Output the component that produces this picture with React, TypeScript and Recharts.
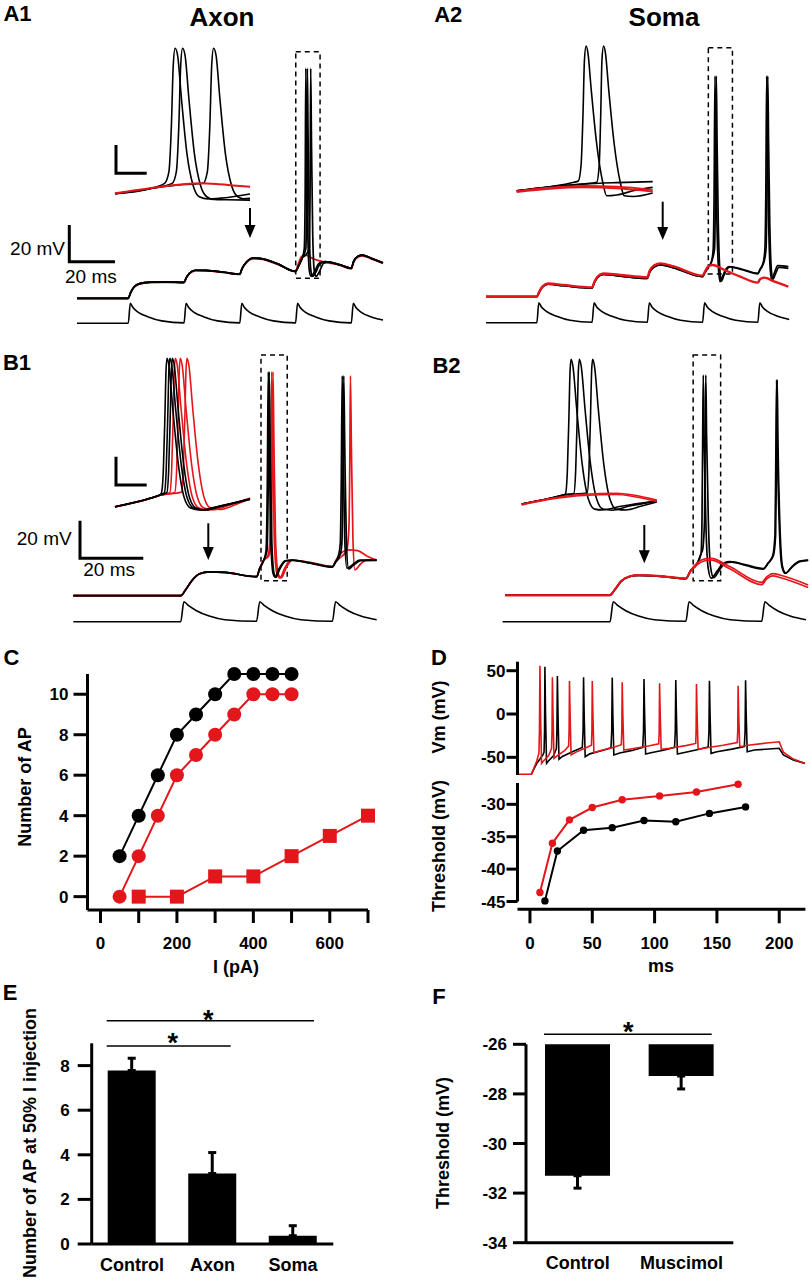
import React from 'react';
import {
  LineChart,
  Line,
  XAxis,
  YAxis,
  ReferenceArea,
  ReferenceLine,
  BarChart,
  Bar,
  ErrorBar,
} from 'recharts';

const FONT = "'Liberation Sans', Arial, Helvetica, sans-serif";
const RED = '#e3161b';

type P = [number, number]; // [time ms, mV] (stimulus: [time ms, pA])

// ---------- stimulus waveforms (pA) ----------
const stimA: P[] = [
  [0, 0], [23, 0], [23.9, 100], [25, 80], [27.5, 55], [32, 32], [38, 12], [48, 2],
  [48.9, 100], [50, 80], [52.5, 55], [57, 32], [63, 12], [73, 2],
  [73.9, 100], [75, 80], [77.5, 55], [82, 32], [88, 12], [98, 2],
  [98.9, 100], [100, 80], [102.5, 55], [107, 32], [113, 12], [123, 2],
  [123.9, 100], [125, 80], [127.5, 55], [132, 32], [137.2, 16],
];
const stimB: P[] = [
  [0, 0], [34, 0], [35, 100], [36.5, 80], [39, 55], [43, 28], [48, 10], [58, 2],
  [59, 100], [60.5, 80], [63, 55], [67, 28], [72, 10], [82, 2],
  [83, 100], [84.5, 80], [87, 55], [91, 28], [96, 10],
];

// ---------- A1 axon ----------
const a1Red: P[] = [
  [0, -70], [23, -70], [24, -67], [25.5, -64], [28, -62.3], [33, -61.5], [40, -61.3], [48, -61.5],
  [49, -59], [50.5, -56.5], [53, -55], [58, -55], [66, -56], [73, -57], [74, -54], [76, -50.5],
  [79, -48.5], [82, -48.6], [90, -51.5], [98, -55.5], [99, -52], [100.5, -47.5], [102, -46.3],
  [106, -48.5], [112, -50.5], [118, -52], [123, -54], [124, -50.5], [126, -47.5], [128, -46.8],
  [132, -48.5], [137.2, -51],
];
const a1BlackPre: P[] = [
  [0, -70], [23, -70], [24, -67], [25.5, -64], [28, -62], [33, -61.2], [40, -61], [48, -61.3],
  [49, -58.8], [50.5, -56.2], [53, -54.7], [58, -54.8], [66, -55.8], [73, -56.8], [74, -53.8],
  [76, -50.2], [79, -48], [82, -48.2], [90, -51.2], [98, -55.3], [99.5, -52], [101, -48],
];
const a1Spike1: P[] = [
  [101.9, -43], [102.3, -15], [102.6, 55.5], [102.95, 15], [103.5, -35], [104.2, -55], [105, -58],
  [106.5, -55.5], [108.5, -51], [111, -50],
];
const a1Spike2: P[] = [
  [102.6, -43], [103, -15], [103.3, 55.5], [103.65, 15], [104.2, -35], [104.9, -55], [105.7, -58],
  [107.2, -55.5], [109, -51], [111.5, -50],
];
const a1Spike3: P[] = [
  [102.5, -46.5], [104.1, -43], [104.5, -15], [104.8, 55.5], [105.15, 15], [105.7, -35],
  [106.4, -55], [107.2, -58], [108.7, -55.5], [110.5, -51], [113, -50.3],
];
const a1BlackPost: P[] = [
  [118, -51.8], [123, -53.6], [124, -50], [126, -47], [128, -46.4], [132, -48.2], [137.2, -50.6],
];
// A1 inset (expanded time)
const a1InRed: P[] = [
  [0, -53.6], [2.82, -50], [5.51, -47.1], [6.85, -46.4], [8.2, -46.9], [9.54, -47.9], [10.89, -48.9],
];
const a1InB1: P[] = [
  [0, -53.8], [2.82, -50.2], [4.0, -46.4], [4.35, -38], [4.55, -5], [4.7, 38], [4.85, 50],
  [5.05, 45], [5.35, 15], [5.8, -25], [6.3, -48], [6.8, -56], [7.5, -57.5], [8.5, -57], [10.89, -54],
];
const a1InB2: P[] = [
  [0, -53.8], [2.82, -50.2], [4.6, -46.5], [4.95, -38], [5.15, -5], [5.3, 38], [5.45, 50],
  [5.65, 45], [5.95, 15], [6.4, -25], [6.9, -48], [7.4, -56], [8.0, -58], [9.0, -58.2], [10.89, -58.4],
];
const a1InB3: P[] = [
  [0, -53.8], [2.82, -50.2], [5.51, -47.3], [7.1, -46.4], [7.45, -38], [7.65, -5], [7.8, 38],
  [7.95, 50], [8.15, 45], [8.45, 15], [8.9, -25], [9.4, -48], [9.9, -56], [10.4, -57.5], [10.89, -57.2],
];

// ---------- A2 soma ----------
const a2Red: P[] = [
  [0, -70], [23, -70], [24, -67.5], [25.5, -64.5], [28, -62.8], [35, -63.6], [48, -64.9],
  [49, -62], [50.5, -59], [53, -57.3], [60, -58], [73, -59.4], [74, -56], [76, -53], [79, -51.8],
  [85, -53.5], [98, -58.5], [99, -56.5], [100.5, -53.5], [102.5, -52.7], [108, -55.5], [115, -59],
  [123, -62.3], [124, -60.5], [126, -59.6], [130, -61.5], [136.8, -64.5],
];
const a2BlackPre: P[] = [
  [0, -70], [23, -70], [24, -67.7], [25.5, -64.8], [28, -63.2], [35, -64], [48, -65.3],
  [49, -62.4], [50.5, -59.5], [53, -57.8], [60, -58.6], [73, -60], [74, -56.8], [76, -53.8],
  [79, -52.6], [85, -54.3], [98, -59], [99, -57], [100.5, -54], [102, -51],
];
const a2Tail1: P[] = [
  [102.8, -44], [103.2, -15], [103.6, 50.4], [103.95, 15], [104.5, -30], [105.2, -55], [105.9, -61.8],
  [107, -59], [108.5, -55], [110, -53.6], [116, -55], [123, -57.2], [124, -55], [125.5, -51],
  [126.2, -44], [126.6, -15], [127, 50.4], [127.35, 15], [127.9, -30], [128.6, -55], [129.3, -60.9],
  [130.5, -57], [132, -53], [136.8, -53.6],
];
const a2Tail2: P[] = [
  [103.4, -44], [103.8, -15], [104.2, 50.4], [104.55, 15], [105.1, -30], [105.8, -55], [106.5, -61.5],
  [107.6, -58.5], [109, -55], [110.5, -53.8], [116, -55.3], [123, -57.5], [124, -55.3], [125.8, -51],
  [126.7, -44], [127.1, -15], [127.5, 50.4], [127.85, 15], [128.4, -30], [129.1, -55], [129.8, -60.5],
  [131, -57.5], [132.5, -54], [136.8, -54.5],
];
const a2InRed: P[] = [[0, -53.6], [2.66, -51.2], [5.33, -50], [8, -50.5], [10.88, -52.9]];
const a2InRed2: P[] = [[0, -54.3], [2.66, -52], [5.33, -51], [8, -51.6], [10.88, -54]];
const a2InB1: P[] = [
  [0, -53.4], [2.66, -50.5], [4.5, -47.5], [4.93, -46.4], [5.15, -35], [5.3, 0], [5.42, 40],
  [5.55, 50], [5.7, 45], [5.95, 20], [6.4, -20], [6.9, -48], [7.2, -57], [8, -56.4], [9.5, -53], [10.88, -51],
];
const a2InB2: P[] = [
  [0, -53.4], [2.66, -50.5], [5.33, -48.6], [6.4, -47.3], [6.6, -35], [6.72, 0], [6.82, 40],
  [6.95, 50], [7.1, 45], [7.35, 20], [7.8, -20], [8.3, -48], [8.6, -57], [9.33, -57.5], [10.88, -55],
];
const a2InB3: P[] = [[0, -53.4], [2.66, -50.5], [5.33, -48.6], [8, -47.6], [10.88, -46.9]];

// ---------- B1 axon ----------
const b1Pre: P[] = [
  [0, -70], [34, -70], [35.5, -67], [37.5, -62], [40, -58.3], [43, -57.3], [48, -57.6], [58, -59.9],
  [59, -55.5], [60.3, -51],
];
const b1Black1: P[] = [
  [61, -46], [61.4, -10], [61.7, 49.1], [62, 10], [62.5, -40], [63.2, -58], [63.8, -60], [65, -56],
  [67, -51.5], [69, -51], [75, -52.5], [82, -54.6], [83, -52], [84, -48], [84.5, -42], [84.8, -10],
  [85.1, 46.9], [85.4, 10], [85.9, -40], [86.6, -55.4], [88, -54], [90.7, -51], [96, -51],
];
const b1Black2: P[] = [
  [61.3, -46], [61.7, -10], [62, 49.1], [62.3, 10], [62.8, -40], [63.5, -58], [64.1, -60.2],
  [65.3, -56], [67.3, -51.5], [69.3, -51.2], [75, -52.7], [82, -54.8], [83, -52.2], [84.5, -48],
  [85, -42], [85.3, -10], [85.6, 46.9], [85.9, 10], [86.4, -40], [87.1, -55.8], [88.5, -54], [91, -51.3], [96, -51.2],
];
const b1Red1: P[] = [
  [61.5, -49], [62.2, -42], [62.5, -10], [62.8, 49.1], [63.1, 10], [63.6, -40], [64.4, -58],
  [65.4, -60.5], [67, -55], [69, -51], [75, -52.5], [82, -54.6], [83, -52], [85, -49], [86.5, -46],
  [87.2, -35], [87.5, 0], [87.7, 46.9], [88, 10], [88.5, -40], [89.1, -56.3], [91, -53], [92.9, -51], [96, -51],
];
const b1Red2: P[] = [
  [61.8, -49], [62.6, -42], [62.9, -10], [63.2, 49.1], [63.5, 10], [64, -40], [64.8, -58],
  [65.8, -60.5], [67.4, -55], [69.4, -51], [75, -52.3], [82, -54.4], [83, -51.5], [85, -47],
  [87, -45.6], [90, -46], [93, -49], [96, -51],
];
const b1InB1: P[] = [
  [0, -56], [2.82, -50], [3.63, -47.6], [3.75, -46], [3.9, -30], [4.03, 10], [4.12, 42], [4.2, 50],
  [4.35, 45], [4.65, 15], [5.1, -25], [5.6, -50], [6.1, -57], [6.85, -58.4], [8.2, -56], [10.89, -50.5],
];
const b1InB2: P[] = [
  [0, -56], [2.82, -50], [3.63, -47.6], [3.98, -46], [4.13, -30], [4.26, 10], [4.35, 42], [4.43, 50],
  [4.58, 45], [4.88, 15], [5.33, -25], [5.83, -50], [6.33, -57], [7.08, -58.4], [8.4, -55.8], [10.89, -50.5],
];
const b1InB3: P[] = [
  [0, -56], [2.82, -50], [3.63, -47.6], [4.18, -46], [4.33, -30], [4.46, 10], [4.55, 42], [4.63, 50],
  [4.78, 45], [5.08, 15], [5.53, -25], [6.03, -50], [6.53, -57], [7.28, -58.4], [8.6, -55.6], [10.89, -50.8],
];
const b1InR1: P[] = [
  [0, -56.2], [2.82, -50.2], [3.63, -47.8], [4.42, -46], [4.57, -30], [4.7, 10], [4.79, 42], [4.87, 50],
  [5.02, 45], [5.32, 15], [5.77, -25], [6.27, -50], [6.77, -57], [7.52, -58.4], [8.8, -55.5], [10.89, -50],
];
const b1InR2: P[] = [
  [0, -56.2], [2.82, -50.2], [3.63, -47.8], [4.82, -45.8], [4.97, -30], [5.1, 10], [5.19, 42], [5.27, 50],
  [5.42, 45], [5.72, 15], [6.17, -25], [6.67, -50], [7.17, -57], [7.92, -58.2], [9.2, -55], [10.89, -50],
];
const b1InR3: P[] = [
  [0, -56.2], [2.82, -50.2], [3.63, -47.8], [5.36, -45.6], [5.51, -30], [5.64, 10], [5.73, 42], [5.81, 50],
  [5.96, 45], [6.26, 15], [6.71, -25], [7.21, -50], [7.71, -57], [8.46, -58], [9.6, -55], [10.89, -50.2],
];

// ---------- B2 soma ----------
const b2Red: P[] = [
  [0.8, -70], [34, -70], [35.5, -67], [37.5, -62.5], [40, -60], [43, -59.3], [50, -59.8], [58, -61.1],
  [59.5, -57], [61.5, -53], [64, -50.8], [66, -50.5], [72, -55], [82, -63.3], [83.5, -60.5],
  [85.5, -58.6], [88, -59.5], [96.7, -64.7],
];
const b2Red2: P[] = [
  [0.8, -70.3], [34, -70.3], [35.5, -67.3], [37.5, -62.8], [40, -60.3], [43, -59.6], [50, -60.1],
  [58, -61.4], [59.5, -57.5], [61.5, -54], [64, -51.8], [66, -51.5], [72, -56.2], [82, -64.5],
  [83.5, -61.6], [85.5, -59.8], [88, -60.8], [96.7, -66],
];
const b2BlackPre: P[] = [
  [0.8, -70], [34, -70], [35.5, -67.2], [37.5, -62.8], [40, -60.3], [43, -59.6], [50, -60.1],
  [58, -61.3], [59.5, -57], [61.5, -53.5], [62.8, -48],
];
const b2Tail1: P[] = [
  [63.1, -30], [63.3, 10], [63.5, 47], [63.75, 15], [64.3, -30], [65, -55], [66, -61.1], [68, -57],
  [70, -53], [72, -52.3], [77, -54], [82.5, -55.9], [84, -53], [85.5, -49], [86.2, -38], [86.45, 0],
  [86.7, 44.4], [86.95, 10], [87.5, -30], [88.4, -55], [89.4, -58.5], [91.5, -55], [94, -52], [96.7, -51.4],
];
const b2Tail2: P[] = [
  [63.3, -46], [63.9, -30], [64.1, 10], [64.3, 47], [64.55, 15], [65.1, -30], [65.8, -55],
  [66.8, -60.8], [68.6, -56.8], [70.5, -53], [72.5, -52.5], [77, -54.3], [82.5, -56.2], [84, -53.3],
  [85.7, -49], [86.4, -38], [86.65, 0], [86.9, 44.4], [87.15, 10], [87.7, -30], [88.6, -55],
  [89.6, -58.3], [91.7, -55], [94, -52.3], [96.7, -51.6],
];
const b2InB1: P[] = [
  [0, -53.4], [2.28, -49.3], [3.36, -46.9], [3.53, -46], [3.68, -30], [3.81, 10], [3.9, 42], [3.98, 50],
  [4.13, 45], [4.43, 15], [4.88, -25], [5.38, -50], [5.88, -57], [6.5, -57.6], [8, -55], [10.89, -51],
];
const b2InB2: P[] = [
  [0, -53.4], [2.28, -49.3], [3.36, -46.9], [4.2, -45.8], [4.35, -30], [4.48, 10], [4.57, 42], [4.65, 50],
  [4.8, 45], [5.1, 15], [5.55, -25], [6.05, -50], [6.55, -57], [7.3, -57.8], [8.6, -55], [10.89, -51.5],
];
const b2InB3: P[] = [
  [0, -53.4], [2.28, -49.3], [3.36, -46.9], [5.27, -45.6], [5.42, -30], [5.55, 10], [5.64, 42], [5.72, 50],
  [5.87, 45], [6.17, 15], [6.62, -25], [7.12, -50], [7.62, -57], [8.4, -57.6], [9.6, -55], [10.89, -52],
];
const b2InR1: P[] = [[0, -53.6], [2.28, -49.5], [4.97, -46.4], [7.66, -45.7], [9, -46.9], [10.89, -50.6]];
const b2InR2: P[] = [[0, -54], [2.28, -50], [4.97, -47.3], [7.66, -46.6], [9, -48], [10.89, -51.5]];

// ---------- C: number of AP vs current ----------
const cI = [50, 100, 150, 200, 250, 300, 350, 400, 450, 500];
const cControl = [2, 4, 6, 8, 9, 10, 11, 11, 11, 11];
const cAxon = [0, 2, 4, 6, 7, 8, 9, 10, 10, 10];
const cSomaI = [100, 200, 300, 400, 500, 600, 700];
const cSoma = [0, 0, 1, 1, 2, 3, 4];
const cXTicks = [0, 100, 200, 300, 400, 500, 600, 700];
const cYTicks = [0, 2, 4, 6, 8, 10];

// ---------- D: spike train + threshold ----------
const dVmBlack: P[] = [
  [-10, -70], [1, -70], [3, -64], [5.5, -57], [8, -52], [10.5, -47], [11.3, -44], [11.7, -20], [12, 54.6],
  [12.5, 0], [13.3, -57], [15, -54], [19, -48], [21.2, -40], [21.6, -20], [22, 43.9], [22.5, 0], [23.3, -52.3],
  [26, -49], [35, -43], [42, -38.5], [42.6, -20], [43, 42.4], [43.5, 0], [44.3, -49.3], [48, -46], [58, -42],
  [65, -39], [65.6, -20], [66, 42], [66.5, 0], [67.3, -47.3], [72, -45], [82, -42], [90.5, -38.5],
  [91.1, -20], [91.5, 40.4], [92, 0], [92.8, -46.2], [98, -44.5], [108, -41.5], [116, -38.5], [116.6, -20],
  [117, 39.3], [117.5, 0], [118.3, -46.2], [124, -44.5], [135, -41], [143, -38], [143.6, -20], [144, 38.5],
  [144.5, 0], [145.3, -45.4], [150, -43.5], [162, -40.5], [172, -37.5], [172.6, -20], [173, 39], [173.5, 0],
  [174.3, -43.5], [180, -41.5], [200, -39.6], [203.3, -47.3], [211.3, -53.1], [220.7, -57],
];
const dVmRed: P[] = [
  [-10, -70], [1, -70], [3, -63], [5.3, -55], [7.2, -45], [7.6, -20], [8, 55.8], [8.5, 0], [9.3, -57],
  [11, -54], [15, -48], [17.3, -40], [17.7, -20], [18, 42.3], [18.5, 0], [19.3, -51.2], [22, -48], [28, -42],
  [31, -37], [31.4, -20], [31.7, 38], [32.2, 0], [33, -47.3], [37, -44], [45, -39], [49.3, -36], [49.7, -20],
  [50, 38], [50.5, 0], [51.3, -44.7], [56, -42.5], [66, -39], [73.3, -35.5], [73.7, -20], [74, 36.7],
  [74.5, 0], [75.3, -41.6], [82, -40], [95, -37], [103.3, -34.5], [103.7, -20], [104, 35.5], [104.5, 0],
  [105.3, -40.8], [112, -39.5], [125, -36.5], [133, -34], [133.3, -20], [133.6, 34.6], [134.1, 0],
  [134.9, -40.8], [142, -39], [155, -36], [166.3, -33], [166.7, -20], [167, 32.7], [167.5, 0], [168.3, -37.7],
  [175, -36], [190, -33.5], [200, -32], [203.3, -44], [211.3, -52], [220.7, -57],
];
const dThrBlackT = [12, 22, 43, 66, 91.5, 117, 144, 173];
const dThrBlack = [-44.9, -37.2, -34.0, -33.6, -32.5, -32.7, -31.4, -30.4];
const dThrRedT = [8, 18, 31.7, 50, 74, 104, 133.6, 167];
const dThrRed = [-43.6, -36.0, -32.4, -30.5, -29.3, -28.7, -28.1, -26.9];
const dVmTicks = [-50, 0, 50];
const dThrTicks = [-45, -40, -35, -30];
const dTimeTicks = [0, 50, 100, 150, 200];

// ---------- E / F bars ----------
const eGroups = ['Control', 'Axon', 'Soma'];
const eMean = [7.78, 3.16, 0.37];
const eSem = [0.55, 0.94, 0.45];
const eTicks = [0, 2, 4, 6, 8];
const fGroups = ['Control', 'Muscimol'];
const fMean = [-31.3, -27.28];
const fSem = [0.5, 0.52];
const fTicks = [-34, -32, -30, -28, -26];

const rows = (pts: P[]) => pts.map(([t, v]) => ({ t, v }));
const tickStyle = { fill: '#000', fontSize: 17, fontWeight: 700, fontFamily: FONT };
const axisStroke = { stroke: '#000', strokeWidth: 3 };

interface Trace {
  pts: P[];
  color: string;
  w?: number;
}

interface PanelProps {
  left: number;
  top: number;
  width: number;
  height: number;
  xDomain: [number, number];
  yDomain: [number, number];
  traces: Trace[];
  stim?: P[];
  stimDomain?: [number, number];
  box?: [number, number, number, number];
}

function TracePanel(p: PanelProps) {
  return (
    <div style={{ position: 'absolute', left: p.left, top: p.top }}>
      <LineChart width={p.width} height={p.height} margin={{ top: 0, right: 0, bottom: 0, left: 0 }}>
        <XAxis type="number" dataKey="t" domain={p.xDomain} allowDataOverflow hide />
        <YAxis yAxisId="v" type="number" domain={p.yDomain} allowDataOverflow hide />
        <YAxis yAxisId="i" type="number" domain={p.stimDomain ?? [0, 1]} allowDataOverflow hide />
        {p.box && (
          <ReferenceArea
            yAxisId="v"
            x1={p.box[0]}
            x2={p.box[1]}
            y1={p.box[2]}
            y2={p.box[3]}
            fill="none"
            fillOpacity={0}
            stroke="#000"
            strokeDasharray="5 4"
            strokeWidth={1.5}
            ifOverflow="visible"
          />
        )}
        {p.stim && (
          <Line
            yAxisId="i"
            data={rows(p.stim)}
            dataKey="v"
            type="monotone"
            stroke="#000"
            strokeWidth={1.6}
            dot={false}
            isAnimationActive={false}
          />
        )}
        {p.traces.map((tr, k) => (
          <Line
            key={k}
            yAxisId="v"
            data={rows(tr.pts)}
            dataKey="v"
            type="monotone"
            stroke={tr.color}
            strokeWidth={tr.w ?? 1.7}
            dot={false}
            isAnimationActive={false}
          />
        ))}
      </LineChart>
    </div>
  );
}

function Txt(props: {
  x: number;
  y: number;
  size?: number;
  weight?: number;
  rot?: number;
  align?: 'c' | 'l' | 'r';
  children: React.ReactNode;
}) {
  const { x, y, size = 18, weight = 700, rot = 0, align = 'c' } = props;
  const tx = align === 'c' ? '-50%' : align === 'r' ? '-100%' : '0';
  return (
    <div
      style={{
        position: 'absolute',
        left: x,
        top: y,
        transform: `translate(${tx},-50%) rotate(${rot}deg)`,
        fontSize: size,
        fontWeight: weight,
        lineHeight: 1,
        whiteSpace: 'nowrap',
        fontFamily: FONT,
        color: '#000',
      }}
    >
      {props.children}
    </div>
  );
}

const lBar = (x: number, yTop: number, yCorner: number, xRight: number) =>
  `M${x},${yTop} L${x},${yCorner} L${xRight},${yCorner}`;

function Arrow({ x, y1, y2 }: { x: number; y1: number; y2: number }) {
  return (
    <g>
      <line x1={x} y1={y1} x2={x} y2={y2 - 10} stroke="#000" strokeWidth={2} />
      <polygon points={`${x - 5.5},${y2 - 13} ${x + 5.5},${y2 - 13} ${x},${y2}`} fill="#000" />
    </g>
  );
}

function Square(props: any) {
  const { cx, cy, index } = props;
  if (cx == null || cy == null) return <g key={`sq${index}`} />;
  return <rect key={`sq${index}`} x={cx - 7} y={cy - 7} width={14} height={14} fill={RED} />;
}

export default function App() {
  const cBlackRows = cI.map((i, k) => ({ i, n: cControl[k] }));
  const cRedRows = cI.map((i, k) => ({ i, n: cAxon[k] }));
  const cSqRows = cSomaI.map((i, k) => ({ i, n: cSoma[k] }));
  const thrBlackRows = dThrBlackT.map((t, k) => ({ t, v: dThrBlack[k] }));
  const thrRedRows = dThrRedT.map((t, k) => ({ t, v: dThrRed[k] }));
  const eRows = eGroups.map((g, k) => ({ g, m: eMean[k], err: [0, eSem[k]] }));
  const fRows = fGroups.map((g, k) => ({ g, m: fMean[k], err: [fSem[k], 0] }));

  return (
    <div
      style={{
        position: 'absolute',
        left: 0,
        top: 0,
        width: 810,
        height: 1283,
        background: '#fff',
        fontFamily: FONT,
        overflow: 'hidden',
      }}
    >
      {/* ---- A1 ---- */}
      <TracePanel
        left={60}
        top={40}
        width={340}
        height={295}
        xDomain={[-7.62, 144.84]}
        yDomain={[-90.02, 70.92]}
        stim={stimA}
        stimDomain={[-58.5, 1416.5]}
        box={[98.1, 109, -59.1, 64.5]}
        traces={[
          { pts: a1Red, color: RED },
          { pts: [...a1BlackPre, ...a1Spike1, ...a1BlackPost], color: '#000' },
          { pts: [...a1BlackPre, ...a1Spike2, ...a1BlackPost], color: '#000' },
          { pts: [...a1BlackPre, ...a1Spike3, ...a1BlackPost], color: '#000' },
        ]}
      />
      <TracePanel
        left={112}
        top={40}
        width={142}
        height={165}
        xDomain={[-0.24, 11.21]}
        yDomain={[-61.9, 55.9]}
        traces={[
          { pts: a1InB1, color: '#000', w: 1.6 },
          { pts: a1InB2, color: '#000', w: 1.6 },
          { pts: a1InB3, color: '#000', w: 1.6 },
          { pts: a1InRed, color: RED, w: 2 },
        ]}
      />

      {/* ---- A2 ---- */}
      <TracePanel
        left={470}
        top={40}
        width={340}
        height={295}
        xDomain={[-7.24, 146.6]}
        yDomain={[-90.89, 70.04]}
        stim={stimA}
        stimDomain={[-61.5, 1413.5]}
        box={[100.6, 111.5, -57.6, 65.8]}
        traces={[
          { pts: [...a2BlackPre, ...a2Tail1], color: '#000' },
          { pts: [...a2BlackPre, ...a2Tail2], color: '#000' },
          { pts: a2Red, color: RED, w: 2.4 },
        ]}
      />
      <TracePanel
        left={514}
        top={35}
        width={142}
        height={170}
        xDomain={[-0.216, 11.144]}
        yDomain={[-63.57, 57.86]}
        traces={[
          { pts: a2InB3, color: '#000', w: 1.6 },
          { pts: a2InB1, color: '#000', w: 1.6 },
          { pts: a2InB2, color: '#000', w: 1.6 },
          { pts: a2InRed2, color: RED, w: 1.8 },
          { pts: a2InRed, color: RED, w: 1.8 },
        ]}
      />

      {/* ---- B1 ---- */}
      <TracePanel
        left={60}
        top={345}
        width={340}
        height={285}
        xDomain={[-4.21, 103.39]}
        yDomain={[-88.24, 63.35]}
        stim={stimB}
        stimDomain={[-41.5, 1383.5]}
        box={[59.4, 67.7, -62.0, 58.0]}
        traces={[
          { pts: [...b1Pre, ...b1Red2], color: RED },
          { pts: [...b1Pre, ...b1Red1], color: RED },
          { pts: [...b1Pre, ...b1Black2], color: '#000' },
          { pts: [...b1Pre, ...b1Black1], color: '#000' },
        ]}
      />
      <TracePanel
        left={112}
        top={350}
        width={142}
        height={170}
        xDomain={[-0.24, 11.21]}
        yDomain={[-65.5, 55.93]}
        traces={[
          { pts: b1InR3, color: RED, w: 1.6 },
          { pts: b1InR2, color: RED, w: 1.6 },
          { pts: b1InR1, color: RED, w: 1.6 },
          { pts: b1InB3, color: '#000', w: 1.6 },
          { pts: b1InB2, color: '#000', w: 1.6 },
          { pts: b1InB1, color: '#000', w: 1.6 },
        ]}
      />

      {/* ---- B2 ---- */}
      <TracePanel
        left={470}
        top={345}
        width={340}
        height={285}
        xDomain={[-10.32, 97.28]}
        yDomain={[-88.62, 62.98]}
        stim={stimB}
        stimDomain={[-41.5, 1383.5]}
        box={[60.3, 69.0, -62.4, 57.7]}
        traces={[
          { pts: [...b2BlackPre, ...b2Tail2], color: '#000' },
          { pts: [...b2BlackPre, ...b2Tail1], color: '#000' },
          { pts: b2Red2, color: RED },
          { pts: b2Red, color: RED },
        ]}
      />
      <TracePanel
        left={518}
        top={350}
        width={142}
        height={170}
        xDomain={[-0.298, 11.15]}
        yDomain={[-64.79, 56.64]}
        traces={[
          { pts: b2InB1, color: '#000', w: 1.6 },
          { pts: b2InB2, color: '#000', w: 1.6 },
          { pts: b2InB3, color: '#000', w: 1.6 },
          { pts: b2InR2, color: RED, w: 1.6 },
          { pts: b2InR1, color: RED, w: 1.6 },
        ]}
      />

      {/* ---- C ---- */}
      <div style={{ position: 'absolute', left: 0, top: 660 }}>
        <LineChart width={400} height={300} margin={{ top: 14, right: 32, bottom: 5, left: 27.5 }}>
          <XAxis
            type="number"
            dataKey="i"
            domain={[-34, 700]}
            ticks={cXTicks}
            tickFormatter={(v: number) => (v % 200 === 0 ? String(v) : '')}
            height={45}
            tick={tickStyle}
            tickSize={13}
            tickMargin={14}
            axisLine={axisStroke}
            tickLine={axisStroke}
          />
          <YAxis
            type="number"
            domain={[-0.66, 11]}
            ticks={cYTicks}
            width={60}
            tick={tickStyle}
            tickSize={14}
            tickMargin={5}
            axisLine={axisStroke}
            tickLine={axisStroke}
          />
          <Line
            data={cBlackRows}
            dataKey="n"
            stroke="#000"
            strokeWidth={2}
            dot={{ r: 7, fill: '#000', stroke: '#000', strokeWidth: 0 }}
            isAnimationActive={false}
          />
          <Line
            data={cRedRows}
            dataKey="n"
            stroke={RED}
            strokeWidth={2}
            dot={{ r: 7, fill: RED, stroke: RED, strokeWidth: 0 }}
            isAnimationActive={false}
          />
          <Line
            data={cSqRows}
            dataKey="n"
            stroke={RED}
            strokeWidth={2}
            dot={Square}
            isAnimationActive={false}
          />
        </LineChart>
      </div>

      {/* ---- D top: membrane potential ---- */}
      <div style={{ position: 'absolute', left: 400, top: 640 }}>
        <LineChart width={410} height={140} margin={{ top: 21.7, right: 4.6, bottom: 5, left: 57.5 }}>
          <XAxis type="number" dataKey="t" domain={[-10, 221]} allowDataOverflow hide />
          <YAxis
            type="number"
            domain={[-70.4, 60.4]}
            allowDataOverflow
            ticks={dVmTicks}
            width={60}
            tick={tickStyle}
            tickSize={11}
            tickMargin={1}
            axisLine={axisStroke}
            tickLine={axisStroke}
          />
          <Line data={rows(dVmBlack)} dataKey="v" type="linear" stroke="#000" strokeWidth={1.6} dot={false} isAnimationActive={false} />
          <Line data={rows(dVmRed)} dataKey="v" type="linear" stroke={RED} strokeWidth={1.6} dot={false} isAnimationActive={false} />
        </LineChart>
      </div>

      {/* ---- D bottom: threshold ---- */}
      <div style={{ position: 'absolute', left: 400, top: 775 }}>
        <LineChart width={410} height={180} margin={{ top: 8, right: 4.6, bottom: 5.7, left: 57.5 }}>
          <XAxis
            type="number"
            dataKey="t"
            domain={[-10, 221]}
            ticks={dTimeTicks}
            height={40}
            tick={tickStyle}
            tickSize={14}
            tickMargin={13.3}
            axisLine={axisStroke}
            tickLine={axisStroke}
          />
          <YAxis
            type="number"
            domain={[-46.2, -26.71]}
            ticks={dThrTicks}
            width={60}
            tick={tickStyle}
            tickSize={11}
            tickMargin={1}
            axisLine={false}
            tickLine={axisStroke}
          />
          <ReferenceLine
            segment={[
              { x: -10, y: -45 },
              { x: -10, y: -26.71 },
            ]}
            stroke="#000"
            strokeWidth={3}
            ifOverflow="visible"
          />
          <Line
            data={thrBlackRows}
            dataKey="v"
            stroke="#000"
            strokeWidth={2}
            dot={{ r: 3.7, fill: '#000', stroke: '#000', strokeWidth: 0 }}
            isAnimationActive={false}
          />
          <Line
            data={thrRedRows}
            dataKey="v"
            stroke={RED}
            strokeWidth={2}
            dot={{ r: 3.7, fill: RED, stroke: RED, strokeWidth: 0 }}
            isAnimationActive={false}
          />
        </LineChart>
      </div>

      {/* ---- E ---- */}
      <div style={{ position: 'absolute', left: 0, top: 1020 }}>
        <BarChart
          width={400}
          height={263}
          data={eRows}
          margin={{ top: 23.3, right: 66.7, bottom: 4, left: 31.7 }}
        >
          <XAxis
            dataKey="g"
            height={35}
            tick={{ ...tickStyle, fontSize: 18 }}
            tickLine={false}
            tickSize={6}
            tickMargin={8.5}
            axisLine={axisStroke}
          />
          <YAxis
            type="number"
            domain={[0, 9]}
            ticks={eTicks}
            width={60}
            tick={tickStyle}
            tickSize={14}
            tickMargin={8}
            axisLine={axisStroke}
            tickLine={axisStroke}
          />
          <Bar dataKey="m" fill="#000" barSize={48} isAnimationActive={false}>
            <ErrorBar dataKey="err" direction="y" width={4} stroke="#000" strokeWidth={3} />
          </Bar>
        </BarChart>
      </div>

      {/* ---- F ---- */}
      <div style={{ position: 'absolute', left: 400, top: 1020 }}>
        <BarChart
          width={410}
          height={263}
          data={fRows}
          margin={{ top: 24.3, right: 76.7, bottom: 4.3, left: 66 }}
        >
          <XAxis
            dataKey="g"
            height={36}
            tick={{ ...tickStyle, fontSize: 18 }}
            tickLine={false}
            tickSize={6}
            tickMargin={8}
            axisLine={axisStroke}
          />
          <YAxis
            type="number"
            domain={[-34, -26]}
            ticks={fTicks}
            width={60}
            tick={tickStyle}
            tickSize={13}
            tickMargin={6}
            axisLine={axisStroke}
            tickLine={axisStroke}
          />
          <Bar dataKey="m" fill="#000" barSize={65} isAnimationActive={false}>
            <ErrorBar dataKey="err" direction="y" width={4} stroke="#000" strokeWidth={3} />
          </Bar>
        </BarChart>
      </div>

      {/* ---- annotations: scale bars, arrows, significance ---- */}
      <svg
        width={810}
        height={1283}
        style={{ position: 'absolute', left: 0, top: 0, pointerEvents: 'none' }}
      >
        <path d={lBar(116, 145, 173.3, 146.7)} fill="none" stroke="#000" strokeWidth={3} />
        <path d={lBar(69.3, 225, 261.7, 115)} fill="none" stroke="#000" strokeWidth={3} />
        <path d={lBar(116, 456.7, 485, 146.7)} fill="none" stroke="#000" strokeWidth={3} />
        <path d={lBar(80, 520.7, 558.3, 143.3)} fill="none" stroke="#000" strokeWidth={3} />
        <Arrow x={250} y1={208} y2={238} />
        <Arrow x={662.7} y1={201.7} y2={240} />
        <Arrow x={208.3} y1={523.3} y2={560} />
        <Arrow x={644.3} y1={525} y2={563.3} />
        <line x1={106.7} y1={1046} x2={230.7} y2={1046} stroke="#000" strokeWidth={1.5} />
        <line x1={106.7} y1={1020.7} x2={314} y2={1020.7} stroke="#000" strokeWidth={1.5} />
        <line x1={544} y1={1034.3} x2={711.7} y2={1034.3} stroke="#000" strokeWidth={1.5} />
        <text x={172.7} y={1051.5} textAnchor="middle" fontSize={27} fontWeight={700} fontFamily={FONT}>*</text>
        <text x={208.3} y={1029.2} textAnchor="middle" fontSize={27} fontWeight={700} fontFamily={FONT}>*</text>
        <text x={628.3} y={1041} textAnchor="middle" fontSize={27} fontWeight={700} fontFamily={FONT}>*</text>
      </svg>

      {/* ---- text ---- */}
      <Txt x={17.5} y={14.2} size={22}>A1</Txt>
      <Txt x={448.3} y={14.5} size={22}>A2</Txt>
      <Txt x={222} y={16.5} size={26}>Axon</Txt>
      <Txt x={664} y={16.5} size={26}>Soma</Txt>
      <Txt x={17} y={363.3} size={22}>B1</Txt>
      <Txt x={446.5} y={366} size={22}>B2</Txt>
      <Txt x={11.5} y={657.5} size={22}>C</Txt>
      <Txt x={439} y={657.5} size={22}>D</Txt>
      <Txt x={10} y={992.5} size={22}>E</Txt>
      <Txt x={439} y={997} size={22}>F</Txt>

      <Txt x={65} y={248} size={19} weight={400} align="r">20 mV</Txt>
      <Txt x={65} y={276} size={19} weight={400} align="l">20 ms</Txt>
      <Txt x={71.7} y={538} size={19} weight={400} align="r">20 mV</Txt>
      <Txt x={83.3} y={569} size={19} weight={400} align="l">20 ms</Txt>

      <Txt x={25} y={787} rot={-90}>Number of AP</Txt>
      <Txt x={236} y={967}>I (pA)</Txt>
      <Txt x={439} y={717} rot={-90}>Vm (mV)</Txt>
      <Txt x={439} y={846} rot={-90}>Threshold (mV)</Txt>
      <Txt x={661} y={966}>ms</Txt>
      <Txt x={30} y={1143} rot={-90}>Number of AP at 50% I injection</Txt>
      <Txt x={443.3} y={1143} rot={-90}>Threshold (mV)</Txt>
    </div>
  );
}
